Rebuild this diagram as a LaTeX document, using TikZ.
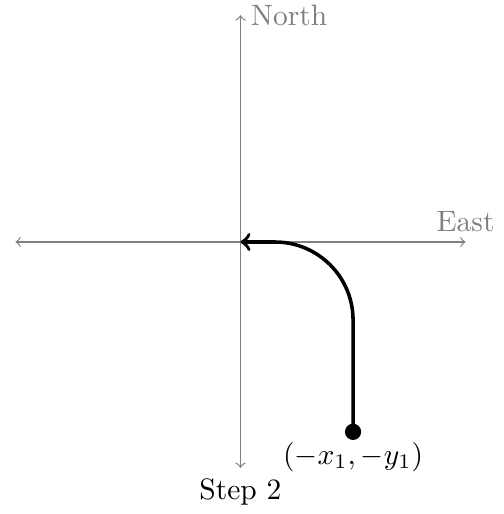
\documentclass[tikz,border=0pt]{standalone}
\usetikzlibrary{positioning}

\begin{document}
\begin{tikzpicture}[
    axis/.style={gray, <->},
    axislabel/.style={gray},
    route/.style={very thick, rounded corners=0.93cm},
    spot/.style={
        circle,
        fill,
        inner sep=0pt,
        minimum size=5.5pt
    },
    >=to
]
\useasboundingbox (-2.863,-3.238) rectangle (3.125,2.881);

\coordinate (origin) at (0,0);
\coordinate (west) at (-2.68,0);
\coordinate (east) at (2.68,0);
\coordinate (south) at (0,-2.69);
\coordinate (north) at (0,2.70);

\draw[axis] (west) -- (east);
\draw[axis] (south) -- (north);
\node[axislabel, anchor=west] (northlabel) at (north) {North};
\node[axislabel, anchor=south] (eastlabel) at (east) {East};
\node[anchor=north] (steplabel) at (south) {Step 2};

\node[spot] (start) at (1.34,-2.26) {};
\node[anchor=north] (startlabel) at (start.center) {$(-x_1,-y_1)$};

\draw[route, ->] (start.center) |- (origin);

\end{tikzpicture}
\end{document}
